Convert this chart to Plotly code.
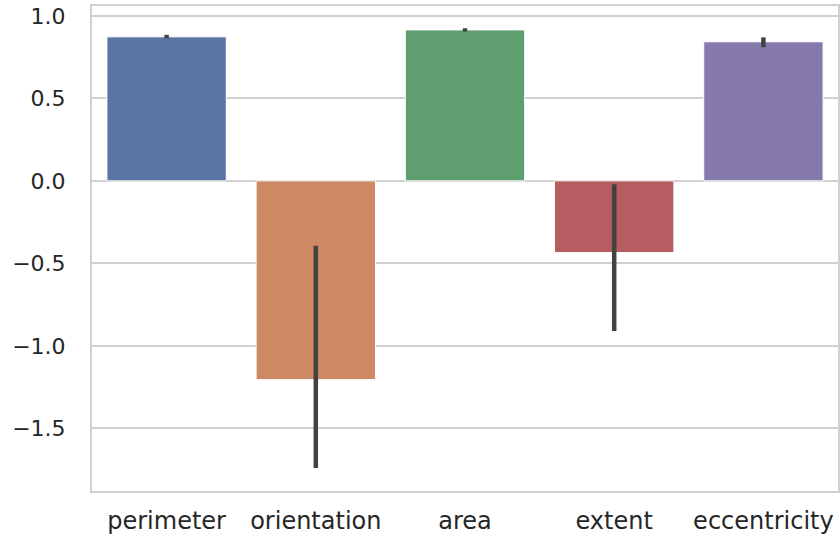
import plotly.graph_objects as go

# Mean coefficient per feature with its confidence interval
features = ["perimeter", "orientation", "area", "extent", "eccentricity"]
means = [0.873, -1.205, 0.915, -0.435, 0.843]
ci_low = [0.865, -1.74, 0.905, -0.91, 0.81]
ci_high = [0.885, -0.394, 0.925, -0.02, 0.87]
colors = ["#5875a4", "#cc8963", "#5f9e6e", "#b55d60", "#857aab"]

err_plus = [h - m for h, m in zip(ci_high, means)]
err_minus = [m - l for l, m in zip(ci_low, means)]

fig = go.Figure(
    go.Bar(
        x=features,
        y=means,
        marker=dict(color=colors, line=dict(color="white", width=1)),
        error_y=dict(
            type="data",
            symmetric=False,
            array=err_plus,
            arrayminus=err_minus,
            color="#424242",
            thickness=4.5,
            width=0,
        ),
    )
)

grid = "#d0d0d0"
ink = "#262626"

fig.update_layout(
    width=840,
    height=537,
    margin=dict(l=92, r=2, t=6, b=46),
    paper_bgcolor="white",
    plot_bgcolor="white",
    bargap=0.2,
    showlegend=False,
    xaxis=dict(
        range=[-0.5, 4.5],
        showgrid=False,
        showline=True,
        linecolor=grid,
        linewidth=2,
        mirror=True,
        ticks="",
        automargin=False,
        ticklabelstandoff=7,
        tickfont=dict(family="DejaVu Sans", size=24, color=ink),
    ),
    yaxis=dict(
        range=[-1.88, 1.06],
        tickvals=[-1.5, -1.0, -0.5, 0.0, 0.5, 1.0],
        ticktext=["\u22121.5", "\u22121.0", "\u22120.5", "0.0", "0.5", "1.0"],
        showgrid=True,
        gridcolor=grid,
        gridwidth=1.8,
        zeroline=False,
        showline=True,
        linecolor=grid,
        linewidth=2,
        mirror=True,
        ticks="",
        automargin=False,
        ticklabelstandoff=20,
        tickfont=dict(family="DejaVu Sans", size=22, color=ink),
    ),
)

fig.write_html("out.html")
